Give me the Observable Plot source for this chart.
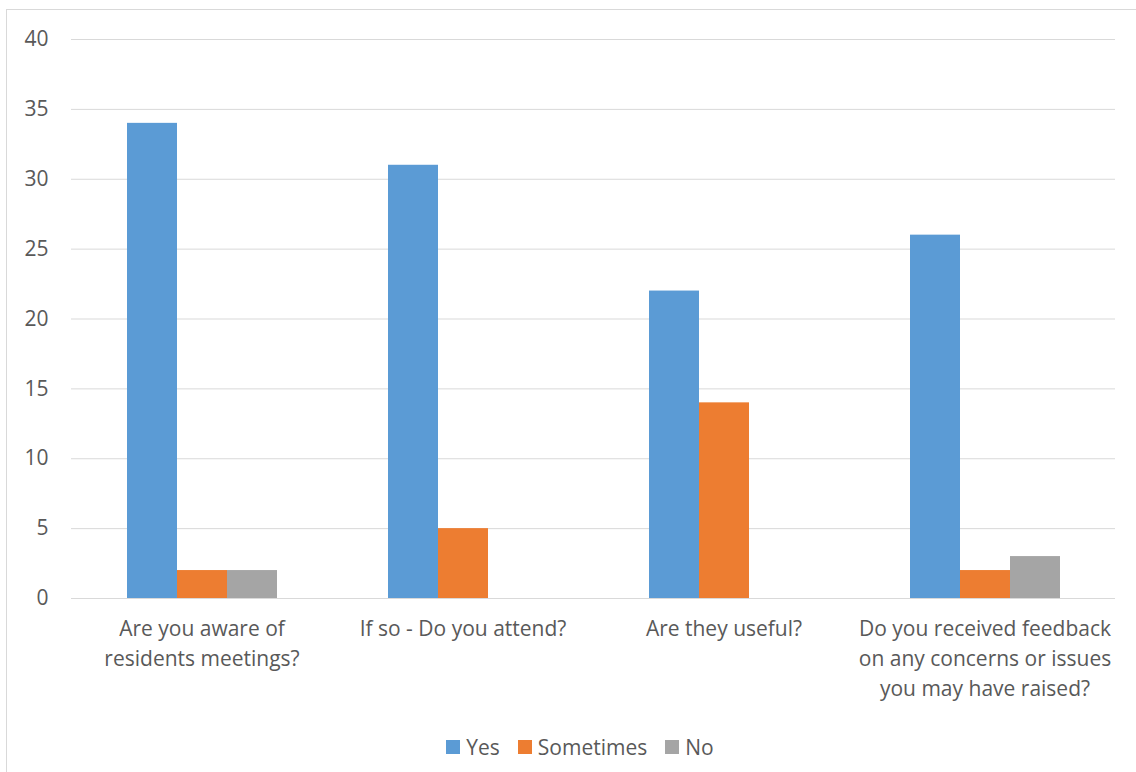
<!DOCTYPE html>
<html>
<head>
<meta charset="utf-8">
<script src="https://cdn.jsdelivr.net/npm/d3@7"></script>
<script src="https://cdn.jsdelivr.net/npm/@observablehq/plot@0.6"></script>
<style>
  html, body { margin: 0; padding: 0; background: #fff; overflow: hidden; }
  #frame { position: absolute; left: 6px; top: 9px; width: 1200px; height: 900px; border: 1px solid #d9d9d9; box-sizing: border-box; }
  #chart { position: absolute; left: 0; top: 0; }
  #legend { position: absolute; left: 12px; top: 730px; width: 1136px; display: flex; justify-content: center; }
  #legend .lg-swatch { margin-right: 18px !important; }
  #legend .lg-swatch:last-child { margin-right: 0 !important; }
  #legend .lg-swatch > svg { margin-right: 6px !important; }
</style>
</head>
<body>
<div id="frame"></div>
<div id="chart"></div>
<div id="legend"></div>
<script>
const categories = [
  "Are you aware of residents meetings?",
  "If so - Do you attend?",
  "Are they useful?",
  "Do you received feedback on any concerns or issues you may have raised?"
];
const tickLabels = [
  "Are you aware of\nresidents meetings?",
  "If so - Do you attend?",
  "Are they useful?",
  "Do you received feedback\non any concerns or issues\nyou may have raised?"
];
const seriesNames = ["Yes", "Sometimes", "No"];
const yesValues = [34, 31, 22, 26];
const sometimesValues = [2, 5, 14, 2];
const noValues = [2, 0, 0, 3];
const colors = ["#5b9bd5", "#ed7d31", "#a5a5a5"];
const yTicks = [0, 5, 10, 15, 20, 25, 30, 35, 40];

const seriesValues = [yesValues, sometimesValues, noValues];
const data = [];
categories.forEach((c, i) => {
  seriesNames.forEach((s, j) => data.push({category: c, series: s, value: seriesValues[j][i]}));
});
const labelOf = new Map(categories.map((c, i) => [c, tickLabels[i]]));

const font = "'Open Sans', sans-serif";
const textColor = "#595959";

const chart = Plot.plot({
  width: 1136,
  height: 712,
  marginLeft: 70,
  marginRight: 21,
  marginTop: 39,
  marginBottom: 114,
  style: {fontFamily: font, fontSize: "21px", color: textColor, background: "transparent"},
  fx: {domain: categories, paddingInner: 0, paddingOuter: 0, label: null},
  x: {domain: seriesNames, paddingInner: 0, paddingOuter: 1.085, axis: null},
  y: {domain: [0, 40], label: null},
  color: {domain: seriesNames, range: colors},
  marks: [
    Plot.gridY(yTicks, {stroke: "#d9d9d9", strokeOpacity: 1, strokeWidth: 1}),
    Plot.axisY(yTicks, {tickSize: 0, tickPadding: 23, fontSize: 21, fill: textColor, label: null}),
    Plot.axisFx({anchor: "bottom", tickSize: 0, tickPadding: 16, fontSize: 21, fill: textColor, lineHeight: 1.43, label: null, tickFormat: d => labelOf.get(d)}),
    Plot.barY(data, {fx: "category", x: "series", y: "value", fill: "series"})
  ]
});
document.getElementById("chart").appendChild(chart);

const legend = Plot.legend({
  color: {type: "ordinal", domain: seriesNames, range: colors},
  legend: "swatches",
  swatchSize: 14,
  className: "lg",
  style: {fontFamily: font, fontSize: "21px", color: textColor, margin: 0}
});
document.getElementById("legend").appendChild(legend);
</script>
</body>
</html>
